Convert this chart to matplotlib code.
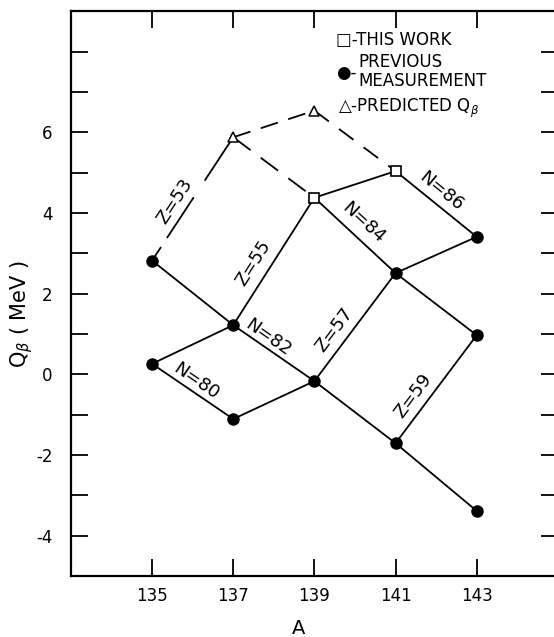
import matplotlib.pyplot as plt

# Q-beta values (MeV), by mass number A
prev_a = [135, 135, 137, 137, 139, 141, 141, 143, 143, 143]
prev_q = [2.82, 0.26, 1.22, -1.11, -0.17, 2.51, -1.71, 3.41, 0.97, -3.39]
this_a = [139, 141]
this_q = [4.38, 5.04]
pred_a = [137, 139]
pred_q = [5.88, 6.54]

# chains of constant N and constant Z
n80_a, n80_q = [135, 137], [0.26, -1.11]
n82_a, n82_q = [135, 137, 139, 141, 143], [2.82, 1.22, -0.17, -1.71, -3.39]
n84_a, n84_q = [137, 139, 141, 143], [5.88, 4.38, 2.51, 0.97]
n86_a, n86_q = [139, 141, 143], [6.54, 5.04, 3.41]
z53_a, z53_q = [135, 137, 139], [2.82, 5.88, 6.54]
z55_a, z55_q = [135, 137, 139, 141], [0.26, 1.22, 4.38, 5.04]
z57_a, z57_q = [137, 139, 141, 143], [-1.11, -0.17, 2.51, 3.41]
z59_a, z59_q = [141, 143], [-1.71, 0.97]

x_ticks = [135, 137, 139, 141, 143]
y_ticks = list(range(-4, 9))

fig = plt.figure(figsize=(5.54, 6.37), dpi=100)
ax = fig.add_axes([0.128, 0.096, 0.879, 0.886])

lw = 1.3
# solid lines (measured)
ax.plot(n80_a, n80_q, color="black", lw=lw)
ax.plot(n82_a, n82_q, color="black", lw=lw)
ax.plot(n84_a[1:], n84_q[1:], color="black", lw=lw)
ax.plot(n86_a[1:], n86_q[1:], color="black", lw=lw)
ax.plot(z55_a, z55_q, color="black", lw=lw)
ax.plot(z57_a, z57_q, color="black", lw=lw)
ax.plot(z59_a, z59_q, color="black", lw=lw)
# dashed lines (predicted)
ax.plot(z53_a[:2], z53_q[:2], color="black", lw=lw, linestyle=(0, (9, 6, 27, 11, 30, 100)))
ax.plot(z53_a[1:], z53_q[1:], color="black", lw=lw, linestyle=(0, (10, 6)))
ax.plot(n84_a[:2], n84_q[:2], color="black", lw=lw, linestyle=(0, (12, 7)))
ax.plot(n86_a[:2], n86_q[:2], color="black", lw=lw, linestyle=(0, (10, 7)))

# markers
ax.plot(prev_a, prev_q, "o", color="black", markersize=8, zorder=5)
ax.plot(this_a, this_q, "s", markerfacecolor="white", markeredgecolor="black",
        markersize=7, markeredgewidth=1.2, zorder=5)
ax.plot(pred_a, pred_q, "^", markerfacecolor="white", markeredgecolor="black",
        markersize=7, markeredgewidth=1.1, zorder=5)

# chain labels
fs = 13
ax.text(135.55, 4.28, "Z=53", rotation=56.7, ha="center", va="center", fontsize=fs)
ax.text(137.50, 2.77, "Z=55", rotation=57.8, ha="center", va="center", fontsize=fs)
ax.text(139.49, 1.11, "Z=57", rotation=53, ha="center", va="center", fontsize=fs)
ax.text(141.43, -0.54, "Z=59", rotation=53.4, ha="center", va="center", fontsize=fs)
ax.text(136.09, -0.17, "N=80", rotation=-34.4, ha="center", va="center", fontsize=fs)
ax.text(137.86, 0.92, "N=82", rotation=-34.9, ha="center", va="center", fontsize=fs)
ax.text(140.20, 3.76, "N=84", rotation=-42.7, ha="center", va="center", fontsize=fs)
ax.text(142.13, 4.53, "N=86", rotation=-39.3, ha="center", va="center", fontsize=fs)

# key
kfs = 12
ax.text(139.54, 8.29, "\u25a1-THIS WORK", ha="left", va="center", fontsize=kfs)
ax.text(140.08, 7.75, "PREVIOUS", ha="left", va="center", fontsize=kfs)
ax.text(139.54, 7.47, "\u25cf-", ha="left", va="center", fontsize=kfs)
ax.text(140.08, 7.28, "MEASUREMENT", ha="left", va="center", fontsize=kfs)
ax.text(139.59, 6.60, "\u25b3-PREDICTED Q$_\\beta$", ha="left", va="center", fontsize=kfs)

ax.set_xlim(133, 145)
ax.set_ylim(-5, 9)
ax.set_xticks(x_ticks)
ax.set_xticklabels([str(a) for a in x_ticks], fontsize=12)
ax.set_yticks(y_ticks)
ax.set_yticklabels([(f"-{-y}" if y < 0 else f"{y}") if (y % 2 == 0 and y <= 6) else ""
                    for y in y_ticks], fontsize=12)
ax.tick_params(direction="in", length=12, width=1.3, top=True, right=True)
ax.tick_params(axis="x", pad=8)
ax.tick_params(axis="y", pad=13)
for side in ["left", "bottom", "top"]:
    ax.spines[side].set_linewidth(1.6)
ax.spines["right"].set_visible(False)

fig.text(22 / 554, 1 - 314 / 637, "Q$_\\beta$ ( MeV )", rotation=90,
         ha="center", va="center", fontsize=15)
fig.text(299 / 554, 1 - 629 / 637, "A", ha="center", va="center", fontsize=14)

fig.savefig("out.png", dpi=100)
